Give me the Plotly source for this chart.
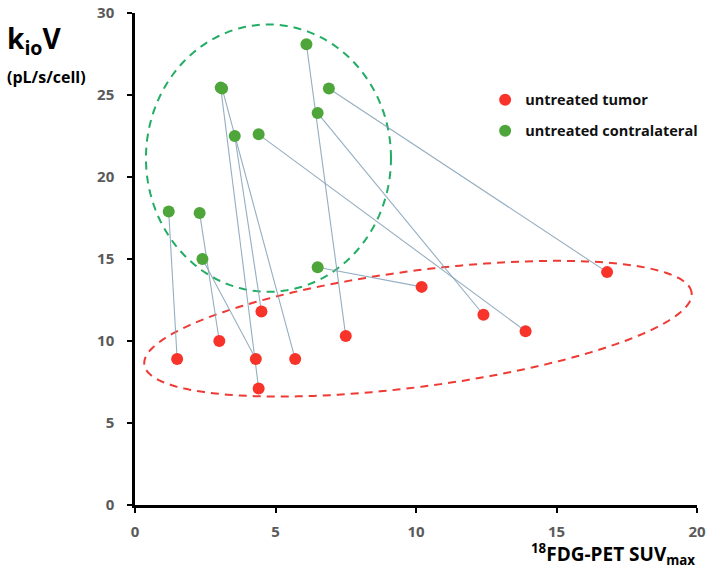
import numpy as np
import plotly.graph_objects as go

# Paired data: each contralateral (green) point is linked to a tumor (red) point
contra_x = [1.2, 2.3, 2.4, 3.1, 3.05, 3.55, 4.4, 6.1, 6.5, 6.9, 6.5]
contra_y = [17.9, 17.8, 15.0, 25.4, 25.45, 22.5, 22.6, 28.1, 23.9, 25.4, 14.5]
tumor_x = [1.5, 3.0, 4.3, 5.7, 4.4, 4.5, 13.9, 7.5, 12.4, 16.8, 10.2]
tumor_y = [8.9, 10.0, 8.9, 8.9, 7.1, 11.8, 10.6, 10.3, 11.6, 14.2, 13.3]

x_ticks = [0, 5, 10, 15, 20]
y_ticks = [0, 5, 10, 15, 20, 25, 30]

W, H = 709, 570
ML, MR, MT, MB = 135, 12, 13, 65
PW, PH = W - ML - MR, H - MT - MB
XR, YR = 20.0, 30.0
sx, sy = PW / XR, PH / YR  # px per data unit


def ellipse_path(cx, cy, a_px, b_px, ang_deg, n=200):
    t = np.linspace(0, 2 * np.pi, n)
    th = np.deg2rad(ang_deg)
    dx = a_px * np.cos(t) * np.cos(th) - b_px * np.sin(t) * np.sin(th)
    dy = a_px * np.cos(t) * np.sin(th) + b_px * np.sin(t) * np.cos(th)
    xs = cx + dx / sx
    ys = cy + dy / sy
    return "M " + " L ".join(f"{x:.4f},{y:.4f}" for x, y in zip(xs, ys)) + " Z"


lx, ly = [], []
for gx, gy, rx, ry in zip(contra_x, contra_y, tumor_x, tumor_y):
    lx += [gx, rx, None]
    ly += [gy, ry, None]

fig = go.Figure()
fig.add_trace(go.Scatter(x=lx, y=ly, mode="lines",
                         line=dict(color="rgba(130,160,182,0.85)", width=1.1),
                         showlegend=False, hoverinfo="skip"))
fig.add_trace(go.Scatter(x=tumor_x, y=tumor_y, mode="markers", name="<b>untreated tumor</b>",
                         marker=dict(color="#f8332a", size=12), legend="legend"))
fig.add_trace(go.Scatter(x=contra_x, y=contra_y, mode="markers", name="<b>untreated contralateral</b>",
                         marker=dict(color="#4ea53a", size=12), legend="legend2"))

fig.add_shape(type="path", path=ellipse_path(4.75, 21.15, 4.36 * sx, 8.15 * sy, 0),
              line=dict(color="#22ad64", width=2, dash="8px,6px"), layer="below")
fig.add_shape(type="path", path=ellipse_path(10.07, 10.75, 276, 58, 7.5),
              line=dict(color="#ee3a34", width=2, dash="8px,6px"), layer="below")

tickfont = dict(family="Open Sans, Arial, sans-serif", size=15, color="#5a5a5a")
fig.update_xaxes(range=[0, XR], tickvals=x_ticks, ticktext=[f"<b>{v}</b>" for v in x_ticks],
                 showline=True, linecolor="black", linewidth=2.5, ticks="outside",
                 ticklen=5, tickwidth=2, tickcolor="black", showgrid=False, zeroline=False,
                 tickfont=tickfont, ticklabelstandoff=6, automargin=False)
fig.update_yaxes(range=[0, YR], tickvals=y_ticks, ticktext=[f"<b>{v}</b>" for v in y_ticks],
                 showline=True, linecolor="black", linewidth=2.5, ticks="outside",
                 ticklen=5, tickwidth=2, tickcolor="black", showgrid=False, zeroline=False,
                 tickfont=tickfont, ticklabelstandoff=10, automargin=False)

legfont = dict(family="Open Sans, Arial, sans-serif", size=14.5, color="#111111")
fig.update_layout(
    width=W, height=H,
    margin=dict(l=ML, r=MR, t=MT, b=MB, autoexpand=False),
    plot_bgcolor="white", paper_bgcolor="white",
    legend=dict(x=0.623, y=0.856, xanchor="left", yanchor="top", font=legfont,
                bgcolor="rgba(0,0,0,0)"),
    legend2=dict(x=0.623, y=0.793, xanchor="left", yanchor="top", font=legfont,
                 bgcolor="rgba(0,0,0,0)"),
    annotations=[
        dict(text="<b>k<sub>io</sub>V</b>", xref="paper", yref="paper",
             x=-ML / PW + 5 / PW, y=1 - (40 - MT) / PH, xanchor="left", yanchor="middle",
             showarrow=False, font=dict(family="Open Sans, Arial, sans-serif", size=28, color="black")),
        dict(text="<b>(pL/s/cell)</b>", xref="paper", yref="paper",
             x=-ML / PW + 5 / PW, y=1 - (77 - MT) / PH, xanchor="left", yanchor="middle",
             showarrow=False, font=dict(family="Open Sans, Arial, sans-serif", size=16, color="black")),
        dict(text="<b><sup>18</sup>FDG-PET SUV<sub>max</sub></b>", xref="paper", yref="paper",
             x=1.0, y=-(554 - (H - MB)) / PH, xanchor="right", yanchor="middle",
             showarrow=False, font=dict(family="Open Sans, Arial, sans-serif", size=19, color="black")),
    ],
)

fig.write_html("out.html")
